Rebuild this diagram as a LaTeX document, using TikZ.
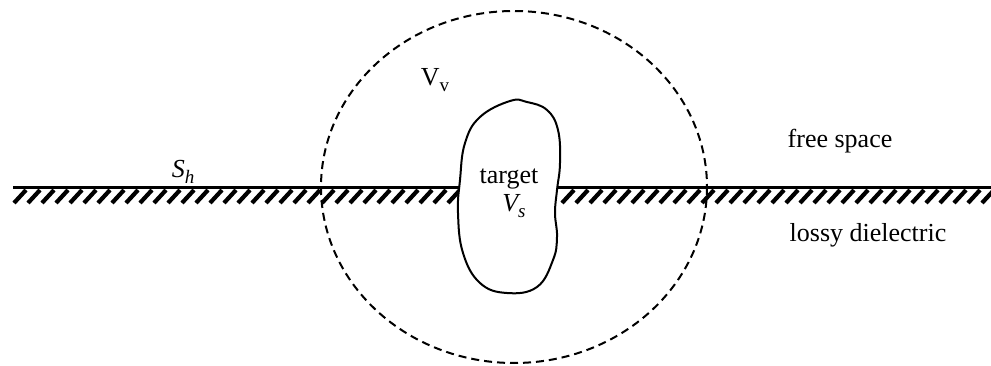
\documentclass[tikz,border=0pt]{standalone}
\usepackage{fontspec}
\setmainfont{Liberation Serif}
\newcommand{\mysub}[1]{\raisebox{-0.45ex}{\fontsize{19}{20}\selectfont #1}}
\begin{document}
\begin{tikzpicture}[x=1pt,y=-1pt,
  lbl/.style={font=\fontsize{26}{30}\selectfont, inner sep=0pt},
  hatchmark/.style={line width=4.2pt},
  ground/.style={line width=3pt},
  boundary/.style={line width=2pt, dash pattern=on 8pt off 5pt},
  blob/.style={line width=2pt, fill=white}]
\useasboundingbox (0,0) rectangle (991,366);
% ground line and hatching
\draw[ground] (13,188) -- (462,188);
\draw[ground] (555,188) -- (991,188);
\foreach \x in {14,28,...,448} {\draw[hatchmark] (\x,203) -- (\x+12,190);}
\foreach \x in {562,576,...,982} {\draw[hatchmark] (\x,203) -- (\x+12,190);}
% dashed virtual boundary
\draw[boundary] (514,187) ellipse [x radius=193, y radius=176];
% target body
\draw[blob] plot[smooth cycle, tension=0.7] coordinates {
  (510,101) (527,102) (547,110) (558,130) (560,163) (557,190) (555,213)
  (557,237) (553,260) (537,287) (507,293) (480,283) (463,253) (458,213)
  (460,180) (465,143) (480,117)};
% labels
\node[lbl] (sh) at (183,172) {\itshape S\mysub{h}};
\node[lbl] (vv) at (435,80) {V\mysub{v}};
\node[lbl] (target) at (509,179) {target};
\node[lbl] (vs) at (514,206) {\itshape V\mysub{s}};
\node[lbl] (free) at (840,141) {free space};
\node[lbl] (lossy) at (868,235) {lossy dielectric};
\end{tikzpicture}
\end{document}
